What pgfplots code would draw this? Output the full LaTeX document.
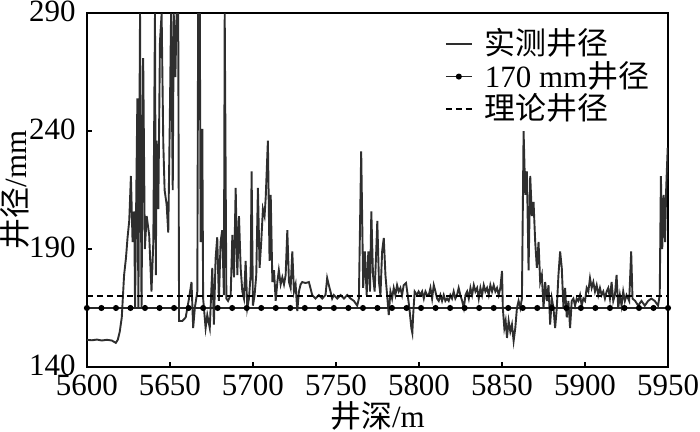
\documentclass[border=0pt]{standalone}
\usepackage{pgfplots}
\pgfplotsset{compat=1.18}
\usepackage{fontspec}
\setmainfont{Liberation Serif}
\newfontfamily\cjk{Noto Sans CJK SC}
\definecolor{curve}{HTML}{2E2E2E}
\begin{document}
\fontsize{15.5}{18}\selectfont
\begin{tikzpicture}
\begin{axis}[
  scale only axis, width=291pt, height=177pt,
  xmin=5600, xmax=5950, ymin=140, ymax=290,
  xtick={5600,5650,...,5950}, ytick={140,190,240,290},
  tick pos=left, tick align=inside, major tick length=2.5pt,
  axis line style={line width=1pt},
  tick style={line width=0.8pt, black},
  /pgf/number format/assume math mode=true,
  /pgf/number format/1000 sep={},
  tick label style={font=\fontsize{15.5}{18}\selectfont, inner sep=0.5pt},
  xticklabel style={yshift=-3.5pt},
  yticklabel style={xshift=-5pt, yshift=1pt},
  xlabel={{\cjk 井深}/m}, ylabel={{\cjk 井径}/mm},
  label style={font=\fontsize{15.5}{18}\selectfont, inner sep=0.5pt},
  xlabel style={at={(axis description cs:0.5,-0.095)}, anchor=north},
  ylabel style={at={(axis description cs:-0.096,0.5)}, anchor=south},
  legend style={draw=none, fill=white, at={(0.975,0.97)}, anchor=north east,
    font=\fontsize{15.5}{18}\selectfont, row sep=-1pt, inner sep=1pt,
    nodes={inner sep=1pt}, cells={anchor=west},
    /tikz/every odd column/.append style={column sep=5pt}},
  legend image code/.code={\draw[mark repeat=2,mark phase=2,#1] plot coordinates {(0cm,0cm) (0.23cm,0cm) (0.46cm,0cm)};},
  clip=true,
]
\addplot[curve, line width=0.95pt, mark=none] coordinates {
(5600,151.5)(5603,151.3)(5606,151.6)(5609,151.2)(5612,151.5)(5615,151.2)(5617.4,150.2)(5618.6,151.5)
(5619.8,155)(5621,161)(5622.4,179)(5623.5,186)(5624.5,195)(5625.5,202)(5626.5,221)(5627.5,193)
(5628.5,206)(5629,165)(5629.8,217)(5630.4,254)(5631,165)(5632,290)(5632.9,165)(5633.9,271)
(5634.9,190)(5636,204)(5637.5,196)(5638.9,172)(5640,193)(5641,290)(5641.5,179)(5642,236)
(5643,207)(5644,278)(5645,290)(5646,235)(5646.8,215)(5648,209)(5649,197)(5649.9,243)
(5650.7,290)(5651.7,215)(5652.3,290)(5653.3,263)(5654,290)(5655,290)(5655.5,159.5)(5657.5,159.5)
(5659.5,161)(5661.5,169)(5663,176)(5664,156.5)(5665,165)(5666.5,172)(5667,290)(5668,290)
(5668.5,193)(5669.5,241)(5670,169)(5671.5,156.5)(5672.5,162)(5674,156.5)(5675.5,182)(5676.5,158)
(5677.5,186)(5678.5,195)(5679.5,168)(5680.5,193)(5681.5,198)(5682.5,170.5)(5683,290)(5684,169)
(5685,168)(5686.6,170.5)(5687.6,196)(5688.6,178)(5689.6,216)(5690.6,179)(5691.6,204)(5692.6,182)
(5693.6,172)(5694.6,169)(5695.6,185)(5696.6,165)(5697.6,169)(5698.6,179)(5699.2,223)(5700,166)
(5701,170.5)(5702,179)(5703,216)(5704,182)(5705,193)(5706,207)(5707,204)(5707.7,212)
(5709,236)(5710,185)(5710.7,213)(5711.7,176)(5712.7,181)(5713.7,168)(5714.7,176)(5715.6,181)
(5716.7,175)(5717.7,178)(5718.7,175)(5719.7,179)(5720.7,198)(5721.7,176)(5722.7,173.5)(5723.7,189)
(5724.7,172)(5725.7,175)(5726.7,163.7)(5727.7,172)(5728.7,175)(5729.7,176)(5731.7,175.6)(5733.7,176)
(5735.7,170.5)(5737.7,169)(5739.7,170.5)(5741.7,169)(5743.7,170.5)(5744.7,177.7)(5745.7,174.7)(5746.7,172)
(5747.7,169)(5748.7,170.5)(5750.8,169)(5752.8,170.5)(5754.8,169)(5756.8,170.5)(5758.8,169)(5760.8,168)
(5762.8,166)(5763.8,169)(5765.2,231.5)(5766.4,173.5)(5767.4,189)(5768.5,170.5)(5769.5,189)(5770.5,172)
(5771.3,206)(5772.3,179)(5773.3,172)(5774.3,190)(5774.9,202)(5775.9,176)(5776.8,170.5)(5777.8,189)
(5778.8,194.7)(5779.8,179)(5780.8,170.5)(5781.8,162)(5782.8,172)(5783.8,169)(5784.8,173.5)(5785.8,170.5)
(5786.8,174.7)(5787.8,172)(5788.8,173.5)(5789.8,170.5)(5790.8,174.7)(5792.2,175.6)(5793.2,170.5)(5794.2,165)
(5795.4,156.5)(5796,154.4)(5796.5,162)(5797.4,172)(5798.8,170.5)(5799.8,172)(5800.9,170.5)(5801.9,172)
(5802.9,169)(5803.9,172)(5804.9,170.5)(5805.9,170.5)(5806.9,173.5)(5807.9,169)(5808.9,174.7)(5809.9,172)
(5810.9,169)(5811.9,168)(5812.9,170.5)(5813.9,168)(5814.9,170.5)(5815.9,168)(5816.9,169)(5817.9,168)
(5818.9,170.5)(5819.9,169)(5820.9,172)(5821.9,169)(5822.9,170.5)(5823.9,173.5)(5824.9,170.5)(5826,168)
(5827,165)(5828,170.5)(5829,172)(5830,169)(5831,173.5)(5832,170.5)(5833,174.7)(5834,172)
(5835,173.5)(5836,169)(5837,173.5)(5838,170.5)(5839,174.7)(5840,172)(5841,173.5)(5842,170.5)
(5843,174.7)(5844,172)(5845,174.7)(5846,172)(5847,173.5)(5848,170.5)(5849,173.5)(5850,180.7)
(5850.5,165)(5851.4,156.5)(5852.2,159.5)(5853,152.3)(5854,159.5)(5855,155)(5856,158)(5857,151)
(5858,156.5)(5859,165)(5860,168)(5861,165)(5862,169)(5863,240)(5864,213)(5865,223)
(5866,181)(5867,221)(5868,204)(5869,210)(5870,193)(5871,182)(5872,193)(5873,176)
(5874,179)(5875,165)(5876,176)(5877,168)(5878,174.7)(5879,158)(5880,169)(5881,165)
(5882,156.5)(5883,165)(5884,179)(5885,189)(5886,182)(5887,165)(5888,173.5)(5889,161)
(5890,168)(5891,156.5)(5892,168)(5893,169)(5894,166)(5895,169)(5896,168)(5897,170.5)
(5898,166)(5899,169)(5900,168)(5901,173.5)(5902,172)(5903,177.7)(5904,173.5)(5905,176)
(5906,172)(5907,174.7)(5908,170.5)(5909,173.5)(5910,170.5)(5911,172)(5912,169)(5913,172)
(5914,173.5)(5915,169)(5916,176)(5917,168)(5918,170.5)(5919,179)(5920,165)(5921,170.5)
(5922,166)(5923,172)(5924,168)(5925,170.5)(5926.6,168)(5927.8,189)(5928.6,169)(5930.2,168)
(5932,166)(5934,168)(5936,166)(5938,168)(5940,169)(5942,168)(5944,166)(5945,170.5)
(5945.7,221)(5946.5,190)(5947.4,213)(5948.2,193)(5948.9,216)(5949.8,233)
};
\addlegendentry{{\cjk 实测井径}}
\addplot[black!85, line width=0.8pt, mark=*, mark size=1.1pt, mark options={black}] coordinates {
(5600,165)(5608.75,165)(5617.5,165)(5626.25,165)(5635,165)(5643.75,165)(5652.5,165)(5661.25,165)
(5670,165)(5678.75,165)(5687.5,165)(5696.25,165)(5705,165)(5713.75,165)(5722.5,165)(5731.25,165)
(5740,165)(5748.75,165)(5757.5,165)(5766.25,165)(5775,165)(5783.75,165)(5792.5,165)(5801.25,165)
(5810,165)(5818.75,165)(5827.5,165)(5836.25,165)(5845,165)(5853.75,165)(5862.5,165)(5871.25,165)
(5880,165)(5888.75,165)(5897.5,165)(5906.25,165)(5915,165)(5923.75,165)(5932.5,165)(5941.25,165)(5950,165)
};
\addlegendentry{170 mm{\cjk 井径}}
\addplot[black, line width=1pt, dash pattern=on 3pt off 2pt, mark=none] coordinates {(5600,170)(5950,170)};
\addlegendentry{{\cjk 理论井径}}
\end{axis}
\end{tikzpicture}
\end{document}
